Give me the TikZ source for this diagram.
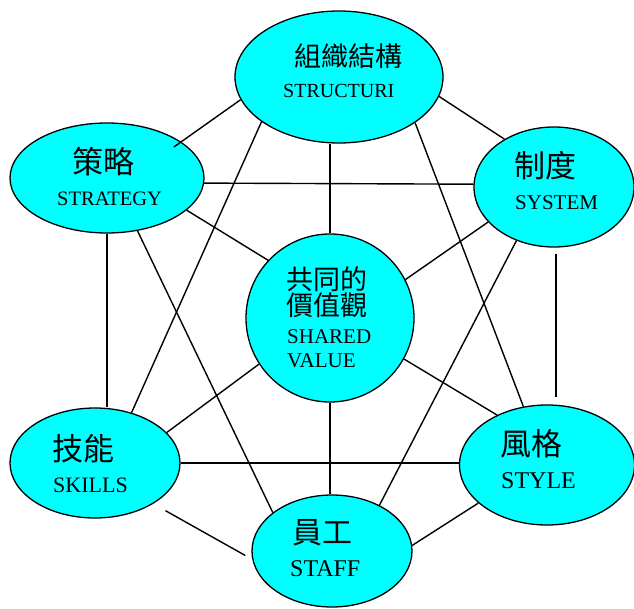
\documentclass[tikz,border=0pt]{standalone}
\usepackage{fontspec}
\setmainfont{Liberation Serif}
\newfontfamily\cjkfont{Noto Sans CJK TC}
\usetikzlibrary{shapes.geometric}
\definecolor{aqua}{RGB}{0,255,255}
\tikzset{
  bubble/.style={ellipse, draw=black, line width=1.3pt, fill=aqua, inner sep=0pt},
  link/.style={line width=1.4pt, draw=black},
  zh/.style={inner sep=0pt, anchor=west, font=\cjkfont\fontsize{#1}{#1}\selectfont},
  en/.style={inner sep=0pt, anchor=base west, font=\fontsize{#1}{#1}\selectfont},
}
\begin{document}
\begin{tikzpicture}[x=1pt,y=-1pt]
\useasboundingbox (0,0) rectangle (634,608);
% bubbles
\node[bubble, minimum width=208pt, minimum height=132pt] (St) at (339,77) {};
\node[bubble, minimum width=194pt, minimum height=110pt] (Sg) at (107,178) {};
\node[bubble, minimum width=160pt, minimum height=120pt] (Sy) at (554,187) {};
\node[bubble, minimum width=168pt, minimum height=168pt] (Sh) at (330,318) {};
\node[bubble, minimum width=170pt, minimum height=110pt] (Sk) at (95,463) {};
\node[bubble, minimum width=175pt, minimum height=120pt] (Sl) at (547,465) {};
\node[bubble, minimum width=160pt, minimum height=112pt] (Sf) at (332,551) {};
% connectors
\draw[link, shorten <=-9pt] (Sg.26) -- (St.193);
\draw[link] (St.349) -- (Sy.136);
\draw[link] (Sg.-3.5) -- (Sy.178);
\draw[link] (Sg.-22) -- (Sh.137);
\draw[link] (Sh.north) -- (Sh.north |- St.south);
\draw[link] (Sy.208) -- (Sh.27);
\draw[link] (Sg.south) -- (Sg.south |- Sk.north);
\draw[link] (Sg.300) -- (Sf.147);
\draw[link] (St.210) -- (Sk.54);
\draw[link] (St.329) -- (Sl.112);
\draw[link] (Sy.235) -- (Sf.44);
\draw[link, shorten <=6pt, shorten >=7pt] ([xshift=2pt]Sy.south) -- ([xshift=2pt]Sy.south |- Sl.north);
\draw[link] (Sh.213) -- (Sk.23);
\draw[link] (Sh.331) -- (Sl.135);
\draw[link] (Sh.south) -- (Sh.south |- Sf.north);
\draw[link] (Sk.east) -- (Sk.east -| Sl.west);
\draw[link, shorten <=14pt, shorten >=8pt] (Sk.325) -- (Sf.186);
\draw[link] (Sf.4) -- (Sl.209);
% texts
\node[zh=27] (tSt) at (294,56) {組織結構};
\node[en=20] (eSt) at (283,97) {STRUCTURI};
\node[zh=31] (tSg) at (72,162) {策略};
\node[en=20.5] (eSg) at (57,205) {STRATEGY};
\node[zh=31] (tSy) at (514,166) {制度};
\node[en=21] (eSy) at (515,209) {SYSTEM};
\node[zh=27] (tSh1) at (286,279) {共同的};
\node[zh=27] (tSh2) at (286,305) {價值觀};
\node[en=21] (eSh1) at (287,343) {SHARED};
\node[en=21] (eSh2) at (287,367) {VALUE};
\node[zh=31] (tSk) at (52,449) {技能};
\node[en=22] (eSk) at (53,492) {SKILLS};
\node[zh=31] (tSl) at (500,444) {風格};
\node[en=24] (eSl) at (501,488) {STYLE};
\node[zh=30] (tSf) at (292,533) {員工};
\node[en=24] (eSf) at (290,576) {STAFF};
\end{tikzpicture}
\end{document}
